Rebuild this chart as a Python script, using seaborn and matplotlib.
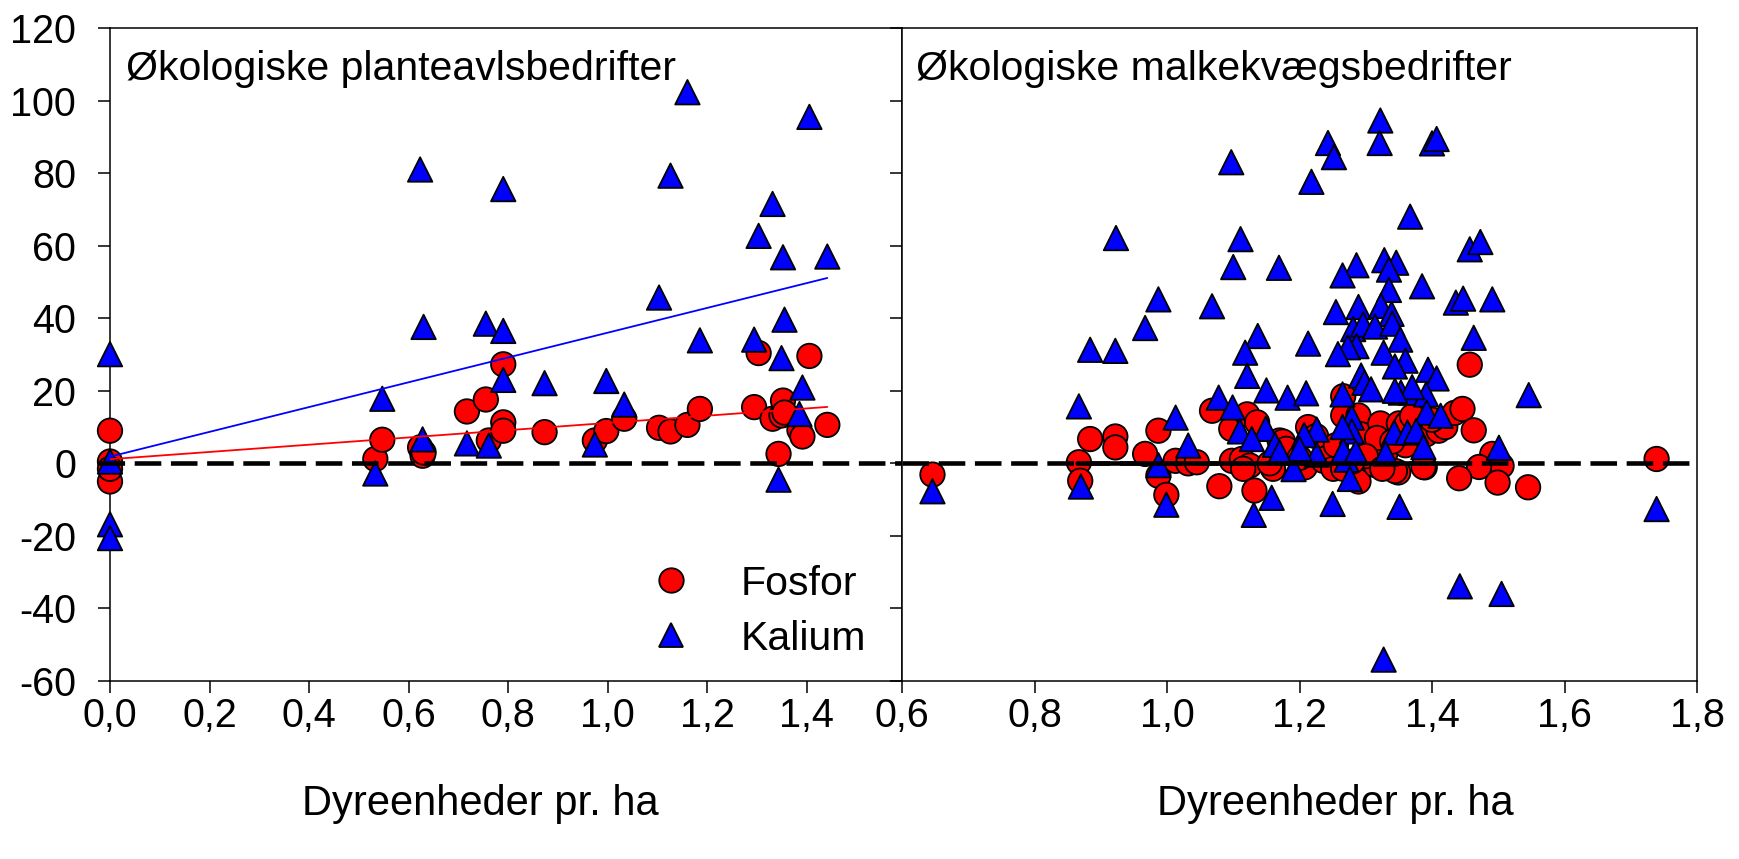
import matplotlib
matplotlib.use("Agg")
import numpy as np
import pandas as pd
import seaborn as sns
import matplotlib.pyplot as plt

# ---------------- data ----------------
panel_titles = ["Økologiske planteavlsbedrifter", "Økologiske malkekvægsbedrifter"]
series_names = ["Fosfor", "Kalium"]
x_label = "Dyreenheder pr. ha"

left_p_x = [0.0, 0.0, 0.0, 0.0, 0.533, 0.547, 0.623, 0.628, 0.630, 0.717, 0.755, 0.761,
            0.790, 0.790, 0.790, 0.873, 0.974, 0.997, 1.033, 1.103, 1.126, 1.160, 1.185,
            1.294, 1.303, 1.331, 1.343, 1.349, 1.352, 1.355, 1.385, 1.391, 1.405, 1.441]
left_p_y = [9.0, 0.5, -5.0, -1.5, 1.2, 6.5, 4.4, 2.1, 3.0, 14.3, 17.6, 6.3,
            27.3, 11.3, 9.0, 8.6, 6.3, 8.9, 12.3, 9.8, 8.8, 10.6, 15.0,
            15.5, 30.4, 12.3, 2.6, 13.2, 17.3, 14.0, 9.2, 7.4, 29.6, 10.6]
left_k_x = [0.0, 0.0, 0.0, 0.0, 0.533, 0.547, 0.623, 0.628, 0.630, 0.717, 0.755, 0.761,
            0.790, 0.790, 0.790, 0.873, 0.974, 0.997, 1.033, 1.103, 1.126, 1.160, 1.185,
            1.294, 1.303, 1.331, 1.343, 1.349, 1.352, 1.355, 1.385, 1.391, 1.405, 1.441]
left_k_y = [30.1, 0.5, -16.8, -20.6, -2.8, 17.8, 81.0, 6.6, 37.6, 5.5, 38.5, 4.9,
            75.6, 36.5, 23.0, 22.1, 5.2, 22.7, 16.2, 45.7, 79.3, 102.3, 33.9,
            34.1, 62.7, 71.5, -4.5, 29.0, 56.8, 39.6, 13.6, 20.9, 95.5, 57.0]

right_p_x = [0.646, 0.867, 0.869, 0.884, 0.922, 0.922, 0.967, 0.987, 0.987, 0.999, 1.013,
             1.032, 1.045, 1.068, 1.097, 1.121, 1.136, 1.098, 1.113, 1.125, 1.115, 1.079,
             1.132, 1.170, 1.175, 1.160, 1.155, 1.193, 1.213, 1.208, 1.236, 1.245, 1.266,
             1.266, 1.289, 1.289, 1.293, 1.322, 1.315, 1.349, 1.350, 1.362, 1.389, 1.391,
             1.251, 1.266, 1.330, 1.317, 1.360, 1.344, 1.387, 1.410, 1.420, 1.434, 1.446,
             1.457, 1.463, 1.491, 1.505, 1.471, 1.441, 1.499, 1.545, 1.739, 1.225, 1.255,
             1.300, 1.340, 1.370, 1.400, 1.180, 1.200, 1.280, 1.325]
right_p_y = [-3.1, 0.3, -4.8, 6.7, 7.4, 4.4, 2.6, 9.0, -3.4, -8.7, 0.7,
             0.0, 0.3, 14.5, 9.5, 13.5, 11.3, 0.7, 1.2, -0.6, -1.5, -6.3,
             -7.5, 6.3, 6.0, -1.5, 0.0, 2.6, 10.0, -1.1, 0.7, 3.0, 18.5,
             13.2, 13.2, -5.0, 8.0, 11.0, -0.5, -2.5, 11.0, 11.0, -1.1, 8.0,
             -1.5, -1.5, 3.0, 7.0, 5.0, -2.1, -1.0, 9.0, 10.0, 13.9, 15.0,
             27.2, 9.1, 2.6, -0.7, -1.0, -4.1, -5.3, -6.6, 1.2, 7.5, 5.0,
             2.0, 6.0, 13.0, 12.0, 4.0, 1.5, 0.5, -1.5]
right_k_x = [0.646, 0.867, 0.870, 0.884, 0.923, 0.922, 0.967, 0.987, 0.987, 0.999, 1.013,
             1.032, 1.097, 1.111, 1.100, 1.169, 1.068, 1.137, 1.118, 1.121, 1.150, 1.182,
             1.210, 1.078, 1.099, 1.110, 1.149, 1.128, 1.163, 1.131, 1.158, 1.250, 1.351,
             1.213, 1.218, 1.243, 1.252, 1.322, 1.321, 1.400, 1.407, 1.367, 1.286, 1.265,
             1.328, 1.346, 1.335, 1.335, 1.385, 1.255, 1.289, 1.323, 1.339, 1.281, 1.296,
             1.314, 1.340, 1.352, 1.286, 1.273, 1.327, 1.360, 1.344, 1.258, 1.293, 1.298,
             1.308, 1.394, 1.407, 1.353, 1.368, 1.391, 1.265, 1.279, 1.392, 1.413, 1.226,
             1.279, 1.343, 1.363, 1.376, 1.387, 1.330, 1.271, 1.226, 1.276, 1.266, 1.191,
             1.207, 1.200, 1.285, 1.436, 1.447, 1.491, 1.457, 1.473, 1.463, 1.546, 1.501,
             1.442, 1.505, 1.739, 1.327, 1.265, 1.370, 1.170, 1.344]
right_k_y = [-7.7, 15.7, -6.4, 31.3, 62.1, 31.0, 37.3, 45.2, -0.5, -11.4, 12.6,
             4.9, 83.0, 61.8, 54.1, 53.9, 43.3, 35.1, 30.5, 24.1, 20.1, 18.1,
             19.3, 18.1, 15.4, 8.8, 9.5, 6.7, 5.1, -14.2, -9.5, -11.2, -12.0,
             33.0, 77.6, 88.3, 84.4, 94.5, 88.3, 88.2, 89.4, 68.0, 54.6, 51.8,
             56.0, 55.3, 53.4, 47.8, 48.8, 41.7, 43.1, 43.4, 41.2, 37.0, 38.3,
             37.7, 38.5, 34.1, 32.3, 32.0, 30.5, 28.3, 26.7, 30.1, 24.2, 22.2,
             20.4, 25.8, 23.4, 19.5, 19.5, 19.0, 19.0, 12.6, 14.0, 13.1, 9.3,
             8.8, 8.5, 8.5, 8.9, 4.5, 2.7, 1.0, 2.4, -4.3, 3.4, -1.6,
             7.8, 4.0, 3.0, 44.3, 45.4, 45.2, 59.0, 61.0, 34.6, 18.8, 4.3,
             -33.9, -36.0, -12.6, -54.1, 10.0, 21.0, 3.0, 20.0]

# flat (near-zero) line through the dairy-farm cluster
right_flat_x = [0.864, 1.42]
right_flat_y = [0.0, 0.0]

left_xticks = [0.0, 0.2, 0.4, 0.6, 0.8, 1.0, 1.2, 1.4]
left_xticklabels = ["0,0", "0,2", "0,4", "0,6", "0,8", "1,0", "1,2", "1,4"]
right_xticks = [0.6, 0.8, 1.0, 1.2, 1.4, 1.6, 1.8]
right_xticklabels = ["0,6", "0,8", "1,0", "1,2", "1,4", "1,6", "1,8"]
yticks = [-60, -40, -20, 0, 20, 40, 60, 80, 100, 120]
yticklabels = ["-60", "-40", "-20", "0", "20", "40", "60", "80", "100", "120"]

# ---------------- style ----------------
sns.set_style("ticks")
plt.rcParams["font.family"] = ["Liberation Sans", "DejaVu Sans"]
plt.rcParams["axes.linewidth"] = 1.1
plt.rcParams["text.color"] = "black"
plt.rcParams["axes.labelcolor"] = "black"
plt.rcParams["xtick.color"] = "black"
plt.rcParams["ytick.color"] = "black"
plt.rcParams["axes.edgecolor"] = "black"

palette = {"Fosfor": "#ff0000", "Kalium": "#0000ff"}
markers = {"Fosfor": "o", "Kalium": "^"}


def long_frame(px, py, kx, ky):
    a = pd.DataFrame({"x": px, "y": py, "serie": series_names[0]})
    b = pd.DataFrame({"x": kx, "y": ky, "serie": series_names[1]})
    return pd.concat([a, b], ignore_index=True)


fig = plt.figure(figsize=(17.39, 8.59), dpi=100)
bottom, height = 0.2072, 0.7602
ax1 = fig.add_axes([0.06325, bottom, 0.45543, height])
ax2 = fig.add_axes([0.51869, bottom, 0.45716, height])

TICK_FS = 28.5
TITLE_FS = 29.5

panels = [
    (ax1, long_frame(left_p_x, left_p_y, left_k_x, left_k_y), (0.0, 1.591),
     left_xticks, left_xticklabels, True),
    (ax2, long_frame(right_p_x, right_p_y, right_k_x, right_k_y), (0.6, 1.8),
     right_xticks, right_xticklabels, False),
]

for i, (ax, df, xlim, xt, xtl, show_legend) in enumerate(panels):
    sns.scatterplot(data=df, x="x", y="y", hue="serie", style="serie",
                    palette=palette, markers=markers, s=310,
                    edgecolor="black", linewidth=1.3, legend=show_legend,
                    zorder=3, clip_on=False, ax=ax)
    ax.axhline(0, xmin=(-0.015 if i == 0 else 0.0), color="black", lw=3.3,
               dashes=(5.8, 2.1), zorder=5, clip_on=False)

# regression lines for the crop farms
sns.regplot(x=left_p_x, y=left_p_y, scatter=False, ci=None, truncate=True,
            color="#ff0000", line_kws={"lw": 1.3, "zorder": 4}, ax=ax1)
sns.regplot(x=left_k_x, y=left_k_y, scatter=False, ci=None, truncate=True,
            color="#0000ff", line_kws={"lw": 1.3, "zorder": 4}, ax=ax1)
# near-zero line through the dairy cluster
sns.lineplot(x=right_flat_x, y=right_flat_y, color="black", lw=3.3,
             zorder=5, ax=ax2)

for i, (ax, df, xlim, xt, xtl, show_legend) in enumerate(panels):
    ax.set_xlim(*xlim)
    ax.set_ylim(-60, 120)
    ax.set_xticks(xt, xtl)
    ax.set_yticks(yticks, yticklabels if i == 0 else [])
    ax.tick_params(axis="both", direction="out", length=8.5, width=1.1,
                   labelsize=TICK_FS, colors="black")
    ax.tick_params(axis="x", pad=3)
    ax.tick_params(axis="y", pad=16)
    for sp in ax.spines.values():
        sp.set_visible(True)
        sp.set_linewidth(1.1)
        sp.set_color("black")
    ax.set_ylabel("")
    ax.set_xlabel(x_label, fontsize=30, color="black")
    ax.text(0.0202 if i == 0 else 0.0176, 0.920, panel_titles[i],
            transform=ax.transAxes, fontsize=TITLE_FS, va="baseline", ha="left",
            color="black")

ax1.xaxis.set_label_coords(0.467, -0.157)
ax2.xaxis.set_label_coords(0.545, -0.157)

leg = ax1.legend(loc="center left", bbox_to_anchor=(0.682, 0.107), frameon=False,
                 fontsize=TITLE_FS, handlelength=1.0, handletextpad=1.2,
                 labelspacing=0.41, borderpad=0, borderaxespad=0, title=None)
for t in leg.get_texts():
    t.set_color("black")

fig.savefig("out.png", dpi=100)
